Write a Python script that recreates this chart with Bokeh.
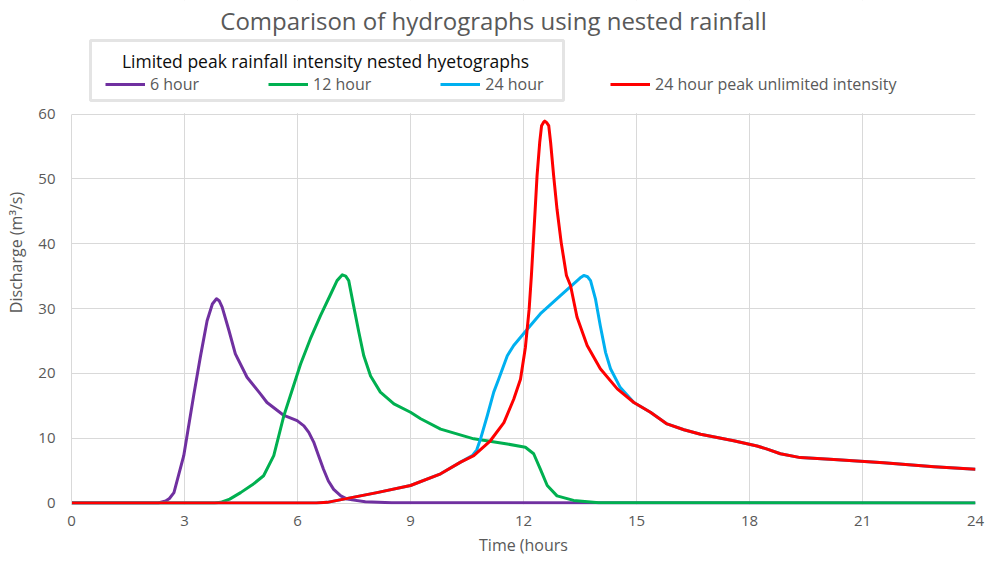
from bokeh.plotting import figure
from bokeh.models import Legend, LegendItem, FixedTicker, Range1d, Label, BoxAnnotation
from bokeh.embed import file_html
from bokeh.resources import INLINE

# ---------------- data ----------------
x_ticks = [0, 3, 6, 9, 12, 15, 18, 21, 24]
y_ticks = [0, 10, 20, 30, 40, 50, 60]

t_6h = [0, 2.3, 2.5, 2.6, 2.72, 2.98, 3.25, 3.42, 3.6, 3.74, 3.85, 3.92, 4.0, 4.18, 4.35,
        4.66, 5.02, 5.19, 5.64, 5.99, 6.17, 6.3, 6.43, 6.56, 6.69, 6.82, 6.96, 7.15,
        7.32, 7.8, 8.5, 24]
q_6h = [0, 0, 0.3, 0.7, 1.6, 7.3, 16.8, 22.5, 28.1, 30.7, 31.5, 31.2, 30.2, 26.6, 23.0,
        19.4, 16.8, 15.5, 13.5, 12.7, 11.9, 10.9, 9.4, 7.3, 5.2, 3.4, 2.1, 1.1,
        0.6, 0.2, 0.05, 0]

t_12h = [0, 3.8, 3.96, 4.2, 4.49, 4.8, 5.1, 5.37, 5.64, 6.08, 6.34, 6.61, 6.88, 7.05,
         7.19, 7.28, 7.36, 7.49, 7.63, 7.76, 7.94, 8.2, 8.56, 9.0, 9.27, 9.8, 10.68,
         11.57, 12.05, 12.27, 12.45, 12.63, 12.89, 13.33, 14.0, 24]
q_12h = [0, 0, 0.1, 0.6, 1.6, 2.8, 4.2, 7.3, 13.5, 21.4, 25.3, 28.9, 32.2, 34.3,
         35.2, 35.0, 34.3, 30.4, 26.3, 22.7, 19.6, 17.1, 15.3, 14.0, 13.0, 11.4, 9.9,
         9.1, 8.6, 7.6, 5.2, 2.7, 1.1, 0.4, 0.05, 0]

t_unl = [0, 6.5, 6.79, 7.23, 8.11, 9.0, 9.8, 10.33, 10.68, 11.12, 11.48, 11.74, 11.92,
         12.05, 12.15, 12.21, 12.26, 12.31, 12.36, 12.43, 12.48, 12.53, 12.565, 12.61,
         12.67, 12.72, 12.8, 12.89, 13.0, 13.14, 13.25, 13.42, 13.69, 14.04, 14.49,
         14.93, 15.37, 15.81, 16.26, 16.7, 17.58, 18.2, 18.47, 18.82, 19.35, 20.24,
         21.56, 22.9, 24]
q_unl = [0, 0, 0.1, 0.6, 1.6, 2.7, 4.5, 6.3, 7.3, 9.6, 12.4, 16.0, 19.1,
         24.0, 29.9, 35.1, 40.2, 45.3, 50.5, 55.6, 58.2, 58.7, 58.9, 58.7,
         58.2, 55.6, 50.5, 45.3, 40.2, 35.1, 33.5, 28.7, 24.3, 20.7, 17.6,
         15.5, 14.0, 12.2, 11.3, 10.6, 9.6, 8.8, 8.3, 7.6, 7.0, 6.7,
         6.2, 5.6, 5.2]

# 24 hour: own values between 10.64 h and 15.37 h, shared with the unlimited curve elsewhere
t_24h_mid = [10.64, 10.76, 10.86, 11.04, 11.21, 11.34, 11.57, 11.74, 12.1, 12.45, 12.98,
             13.33, 13.5, 13.6, 13.7, 13.78, 13.91, 14.04, 14.18, 14.31, 14.57, 14.93, 15.37]
q_24h_mid = [7.3, 8.2, 9.9, 13.5, 17.1, 19.1, 22.7, 24.3, 26.8, 29.2, 32.0,
             33.8, 34.7, 35.1, 34.9, 34.3, 31.5, 27.3, 23.2, 20.7, 17.8, 15.5, 14.0]

labels_nested = ["6 hour", "12 hour", "24 hour"]
label_unl = "24 hour peak unlimited intensity"
legend_title = "Limited peak rainfall intensity nested hyetographs"
chart_title = "Comparison of hydrographs using nested rainfall"

t_24h = [t for t in t_unl if t < 10.6] + t_24h_mid + [t for t in t_unl if t > 15.4]
q_24h = [q for t, q in zip(t_unl, q_unl) if t < 10.6] + q_24h_mid + \
        [q for t, q in zip(t_unl, q_unl) if t > 15.4]

# ---------------- styling ----------------
FONT = "Open Sans"
GRAY = "#595959"
GRID = "#d9d9d9"
C6, C12, C24, CUNL = "#7030A0", "#00B050", "#00B0F0", "#FF0000"

# frame spans the full height; the value area (0..60) occupies its lower 389 px,
# the header (title + legends) sits in the upper part of the frame.
FRAME_H = 504
PLOT_H = 389
PX_PER_UNIT = PLOT_H / y_ticks[-1]
y_bottom = -1.5 / PX_PER_UNIT          # room so the 3 px lines at zero are not cut
y_top = y_bottom + FRAME_H / PX_PER_UNIT

p = figure(width=985, height=563, output_backend="svg", toolbar_location=None,
           x_range=Range1d(0, 24), y_range=Range1d(y_bottom, y_top),
           min_border_left=71, min_border_right=10, min_border_top=0,
           min_border_bottom=59)
p.outline_line_color = None

for ax in (p.xaxis[0], p.yaxis[0]):
    ax.major_tick_line_color = None
    ax.minor_tick_line_color = None
    ax.major_tick_out = 0
    ax.major_tick_in = 0
    ax.minor_tick_out = 0
    ax.axis_line_color = GRID
    ax.major_label_text_font = FONT
    ax.major_label_text_font_size = "15px"
    ax.major_label_text_color = GRAY
    ax.axis_label_text_font = FONT
    ax.axis_label_text_font_size = "16px"
    ax.axis_label_text_color = GRAY
    ax.axis_label_text_font_style = "normal"

p.xaxis.axis_line_color = None
p.xaxis.ticker = FixedTicker(ticks=x_ticks)
p.yaxis.ticker = FixedTicker(ticks=y_ticks)
p.yaxis.bounds = (y_bottom, y_ticks[-1])
p.xaxis.axis_label = "Time (hours"
p.yaxis.axis_label = "Discharge (m³/s)"
p.xaxis.major_label_standoff = 11
p.xaxis.axis_label_standoff = 5
p.yaxis.major_label_standoff = 16
p.yaxis.axis_label_standoff = 8

p.xgrid.grid_line_color = GRID
p.ygrid.grid_line_color = GRID

# white cover over the vertical grid lines above the top of the value axis
p.add_layout(BoxAnnotation(bottom=y_ticks[-1] + 0.12, fill_color="white", fill_alpha=1,
                           line_color=None, level="underlay"))

r6 = p.line(t_6h, q_6h, line_color=C6, line_width=3, line_join="round")
r12 = p.line(t_12h, q_12h, line_color=C12, line_width=3, line_join="round")
r24 = p.line(t_24h, q_24h, line_color=C24, line_width=3, line_join="round")
rU = p.line(t_unl, q_unl, line_color=CUNL, line_width=3, line_join="round")

# header: positions in screen px from the frame's lower-left corner
p.add_layout(Label(x=422, y=484, x_units="screen", y_units="screen",
                   text=chart_title, text_align="center", text_baseline="middle",
                   text_font=FONT, text_font_size="24px", text_color=GRAY))
p.add_layout(BoxAnnotation(left=19, right=492, top=464, bottom=404,
                           left_units="screen", right_units="screen",
                           top_units="screen", bottom_units="screen",
                           fill_alpha=0, line_color="#a6a6a6", line_width=3))
p.add_layout(Label(x=254, y=444, x_units="screen", y_units="screen",
                   text=legend_title, text_align="center", text_baseline="middle",
                   text_font=FONT, text_font_size="17.5px", text_color="#0d0d0d"))

common = dict(orientation="horizontal", glyph_width=40, glyph_height=20,
              label_standoff=5, background_fill_alpha=0, padding=0, margin=0,
              border_line_color=None,
              label_text_font=FONT, label_text_font_size="16px",
              label_text_color=GRAY)
leg1 = Legend(items=[LegendItem(label=labels_nested[0], renderers=[r6]),
                     LegendItem(label=labels_nested[1], renderers=[r12]),
                     LegendItem(label=labels_nested[2], renderers=[r24])],
              location=(34, 409), spacing=69, **common)
leg2 = Legend(items=[LegendItem(label=label_unl, renderers=[rU])],
              location=(539, 409), spacing=0, **common)
p.add_layout(leg1)
p.add_layout(leg2)

open("out.html", "w").write(file_html(p, INLINE))
